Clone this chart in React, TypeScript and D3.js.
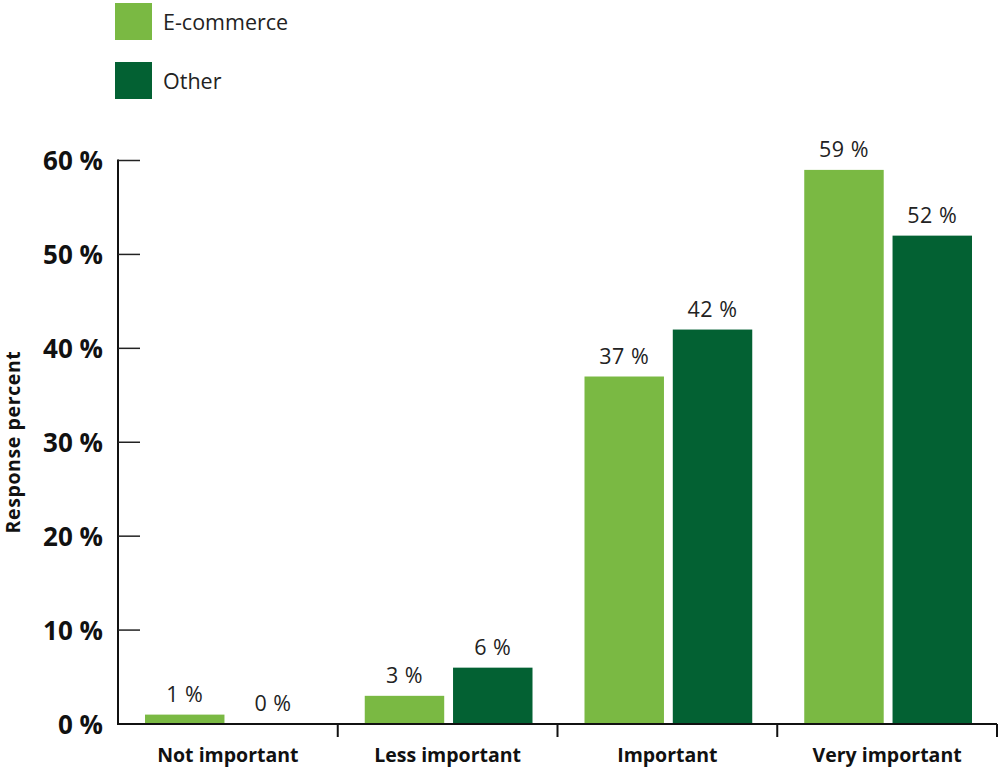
import React from "react";
import * as d3 from "d3";

const categories = ["Not important", "Less important", "Important", "Very important"];
const seriesNames = ["E-commerce", "Other"];
const ecommerce = [1, 3, 37, 59];
const other = [0, 6, 42, 52];
const yTicks = [0, 10, 20, 30, 40, 50, 60];
const colors = ["#7ab943", "#036133"];

const FONT = "'Open Sans', sans-serif";

export default function App() {
  const width = 1000;
  const height = 770;
  const x0 = 118;
  const x1 = 997;
  const yBase = 724;
  const yTop = 160.5;

  const x = d3.scaleBand<string>().domain(categories).range([x0, x1]).paddingInner(0).paddingOuter(0);
  const y = d3.scaleLinear().domain([0, 60]).range([yBase, yTop]);
  const inner = d3
    .scaleBand<string>()
    .domain(seriesNames)
    .range([27, x.bandwidth() - 25])
    .paddingInner(0.1);

  const series = [ecommerce, other];

  return (
    <div style={{ position: "absolute", left: 0, top: 0, width, height, overflow: "hidden" }}>
      <svg width={width} height={height} style={{ display: "block", fontFamily: FONT }}>
        {/* Legend */}
        {seriesNames.map((s, i) => (
          <g key={s} transform={`translate(115, ${3 + i * 59})`}>
            <rect width={37} height={37} fill={colors[i]} />
            <text x={48} y={26.5} fontSize={21.5} fill="#222">
              {s}
            </text>
          </g>
        ))}

        {/* Y axis */}
        <line x1={x0} x2={x0} y1={yTop - 1} y2={yBase} stroke="#111" strokeWidth={2} />
        {yTicks.map((t) => (
          <g key={t}>
            {t > 0 && (
              <line x1={x0} x2={140} y1={y(t)} y2={y(t)} stroke="#222" strokeWidth={1.5} />
            )}
            <text
              x={103}
              y={y(t) + 9.5}
              textAnchor="end"
              fontSize={26}
              fontWeight={700}
              fill="#111"
            >
              {`${t} %`}
            </text>
          </g>
        ))}
        <text
          transform={`translate(20, 442) rotate(-90)`}
          textAnchor="middle"
          fontSize={19.5}
          letterSpacing={0.6}
          fontWeight={700}
          fill="#111"
        >
          Response percent
        </text>

        {/* Bars */}
        {categories.map((c, ci) => (
          <g key={c} transform={`translate(${x(c)}, 0)`}>
            {seriesNames.map((s, si) => {
              const v = series[si][ci];
              const bx = inner(s)!;
              return (
                <g key={s}>
                  <rect
                    x={bx}
                    y={y(v)}
                    width={inner.bandwidth()}
                    height={yBase - y(v)}
                    fill={colors[si]}
                  />
                  <text
                    x={bx + inner.bandwidth() / 2}
                    y={y(v) - 13}
                    textAnchor="middle"
                    fontSize={21.5}
                    letterSpacing={0.5}
                    fill="#222"
                  >
                    {`${v} %`}
                  </text>
                </g>
              );
            })}
            <text
              x={x.bandwidth() / 2}
              y={762}
              textAnchor="middle"
              fontSize={19.5}
              fontWeight={700}
              fill="#111"
            >
              {c}
            </text>
          </g>
        ))}

        {/* X axis */}
        <line x1={x0 - 1} x2={x1} y1={yBase} y2={yBase} stroke="#111" strokeWidth={2} />
        {categories.map((c) => (
          <line
            key={c}
            x1={x(c)! + x.bandwidth()}
            x2={x(c)! + x.bandwidth()}
            y1={yBase}
            y2={737}
            stroke="#111"
            strokeWidth={2}
          />
        ))}
      </svg>
    </div>
  );
}
